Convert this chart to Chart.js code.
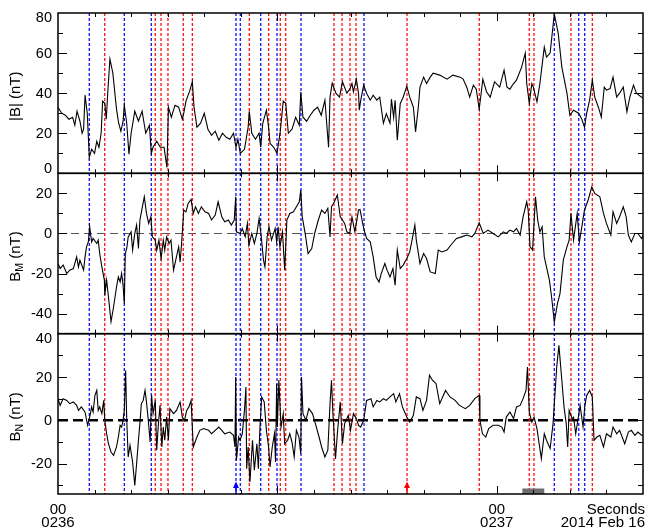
<!DOCTYPE html>
<html><head><meta charset="utf-8">
<script src="https://cdn.jsdelivr.net/npm/chart.js@4"></script>
<style>html,body{margin:0;padding:0;background:#fff;}#wrap{width:646px;height:531px;position:relative;}</style>
</head><body><div id="wrap"><canvas id="c" width="646" height="531"></canvas></div>
<script>
// ---- data (seconds after 02:36:00, nT) ----
const tB=[0,0.5,1,1.5,2,2.3,2.6,3,3.3,3.5,3.7,4.0,4.28,4.6,5.0,5.3,5.6,5.9,6.1,6.4,6.6,6.8,7.1,7.5,8.0,8.3,8.6,8.9,9.07,9.4,9.7,10.0,10.5,11.0,11.5,12.0,12.5,12.76,13.0,13.5,14.0,14.5,14.9,15.1,15.5,16.0,16.5,17.0,17.2,17.5,18.0,18.37,18.6,19.0,19.5,20.0,20.5,21.0,21.5,22.0,22.5,23.0,23.5,24.0,24.34,24.6,24.93,25.5,26.0,26.16,26.5,27.0,27.5,27.72,28.0,28.5,28.8,29.0,29.5,29.95,30.4,30.8,31.14,31.5,32.0,32.5,33.0,33.2,33.5,34.0,34.5,35.0,35.5,36.0,36.5,37.0,37.2,37.5,38.0,38.5,38.9,39.5,39.9,40.2,40.4,40.8,41.1,41.2,41.4,41.8,42.2,42.7,43.1,43.6,44.0,44.5,44.9,45.4,45.6,45.9,46.1,46.4,46.8,47.2,47.7,48.1,48.6,48.9,49.3,49.5,50.0,50.4,50.9,51.3,52.2,53.2,54.0,55.0,55.4,55.9,56.3,56.8,57.2,57.6,58.1,58.6,59.1,59.7,60.4,61.0,61.4,61.8,62.3,62.7,63.4,63.9,64.1,64.45,64.8,65.0,65.5,65.9,66.5,66.8,67.3,67.87,68.4,68.9,69.6,70.0,70.5,71.2,71.6,72.0,72.3,72.7,73.07,73.4,73.9,74.3,74.7,75.0,75.5,75.9,76.4,76.8,77.3,77.8,78.2,78.7,79.1,79.8,80];
const vB=[33,30,29,27,28,24,31,26,20,22,39,30,8,12,10,16,13,20,36,35,27,40,57,50,32,25,21,26,34,25,9.5,20,31,26,31,20,24,10,13,16,13,13,3,33,28,34,33,27,30,36,41,45.7,33,23,25,30,22,19,21,16.5,20,18,17,20,13,17,10,12,23,31,20,17,20,13,25,31.5,23,15,13,10,21,36,35,20,22,28,24,40.6,28,26,29,31.5,33,29,36.5,13,38,45,40,38,45.7,40,42,44.8,40.7,47,39.8,31.5,36.5,44,40,36.5,39,36.5,38,25,29.8,25,37,28,36.5,16.5,34.8,38,43.5,38,33,20.7,34,43,48,44.8,48,50,49,47,49,48,47,43,38,44,42,32,47,40.7,38,45.7,43,51.5,43,42,44.8,46.5,53,60,44.8,35,44.8,43,35.7,44.8,63,58,60,79.5,70,53,40,29,31.5,30,27.3,23,30,36.5,46.5,38,33,28,43,41.5,42.3,48,38,40,43,30.7,38,44,40,38,38];

const tM=[0,0.3,0.7,1.2,1.6,2.1,2.55,2.8,3.0,3.5,3.7,3.9,4.15,4.33,4.6,4.8,5.3,5.5,5.7,6.0,6.34,6.4,6.65,6.9,7.25,7.6,8.0,8.25,8.5,8.7,8.9,9.07,9.2,9.4,9.6,10.0,10.2,10.5,10.75,11.0,11.2,11.5,11.8,12.1,12.4,12.7,12.9,13.3,13.5,13.8,14.1,14.4,14.6,14.85,15.2,15.45,15.8,16.1,16.5,16.7,16.9,17.2,17.5,17.8,18.2,18.5,18.8,19.2,19.6,20.1,20.6,21.0,21.5,21.9,22.4,22.8,23.3,23.7,24.1,24.3,24.4,24.9,25.2,25.6,25.9,26.1,26.5,26.85,27.2,27.5,27.8,28.1,28.3,28.6,28.85,29.2,29.7,29.9,30.1,30.35,30.7,31.0,31.3,31.7,32.2,32.6,33.0,33.2,33.4,33.8,34.2,34.7,35.1,35.6,36.05,36.5,36.9,37.2,37.4,37.8,38.2,38.6,38.9,39.2,39.5,39.9,40.2,40.6,41.1,41.3,41.8,42.2,42.7,43.1,43.5,43.9,44.2,44.7,45.0,45.4,45.8,46.1,46.4,46.8,47.2,47.7,48.1,48.5,48.8,49.0,49.5,50.0,50.4,50.9,51.6,52.0,52.5,53.2,53.9,54.5,55.2,55.9,56.6,57.0,57.6,58.15,58.8,59.5,60.2,60.9,61.3,61.8,62.3,62.7,63.2,63.6,64.1,64.3,64.55,64.9,65.3,65.6,65.9,66.2,66.5,66.8,67.2,67.5,67.87,68.3,68.65,69.1,69.6,69.9,70.15,70.5,71.0,71.3,71.6,72.0,72.5,73.0,73.4,74.1,74.6,75.0,75.6,75.9,76.4,76.8,77.3,77.7,78.0,78.4,78.9,79.3,79.8,80];
const vM=[-15,-17.5,-15.8,-20,-18.3,-17.5,-11.7,-16.7,-13.3,-18.3,-11.7,-6.7,-4.2,3.3,-4.2,-2.5,-5,-3.3,-10,-16.7,-23.3,-30.8,-23.3,-31.7,-44,-36.7,-26.7,-21.7,-24.2,-20,-25.8,-35,-10,-7.5,-1.7,0.8,-8.3,0,4.2,-7.5,6.7,12.5,18.3,10,5,8.3,-1.7,-3.3,-8.3,-3.3,-12.5,-3.3,-8.3,-1.7,-5,-3.3,-18.3,-13.3,-6.7,-14.2,-5,11.7,10.8,15,17,10,13.3,10,13.3,10.8,10,6.7,9.2,15.8,8.3,5.8,6.7,4.2,6.7,18.3,0.8,0,2.5,-1.7,5,-5.8,0,-5,0,7.5,-1.7,-13.3,-16.7,-1.7,3.3,-3.3,2.5,-4.2,3.3,-6.7,0.8,-18.3,6.7,10,10.8,13.3,15.8,21.7,8.3,0,-10,-7.5,0,6.7,11.7,10,12.5,-1.7,13.3,15.8,19.2,8.3,6.7,5,0.8,0,8.3,0.8,11.7,12,2.5,-2.5,-4.2,-11.7,-21.7,-24.2,-20,-15,-18.3,-21.7,-17.5,-25.8,-8.3,-17.5,-15.8,-12.5,-9.2,-1.7,4.2,-3.3,-15,-10,-12.5,-19.2,-20,-8.3,-9.2,-8.3,-5,-2.5,-1.7,-0.8,-1.7,0,5.3,0,1.7,0,-1.7,0.8,0,1.7,0.8,2.5,-0.8,8.3,15.8,11.7,-6.7,-8.3,18.3,6.7,0.8,3.3,-11.7,-16.7,-23.3,-31.7,-44.2,-35,-30,-13.3,-6.7,-3.3,10,-3.3,10,-4.2,2.5,11.7,16.7,23.3,20,18.3,10,5,-0.8,10.8,5,8.3,13.3,8.3,-0.8,-4.2,0,0,-2.5,-1];

const tN=[0,0.3,0.7,1.2,1.6,2.1,2.55,2.8,3.2,3.7,4.05,4.33,4.6,4.8,5.05,5.3,5.5,5.7,6.0,6.25,6.4,6.65,6.9,7.25,7.6,8.0,8.25,8.5,8.7,8.9,9.07,9.25,9.4,9.6,9.85,10.2,10.5,10.75,11.0,11.2,11.4,11.65,11.9,12.1,12.35,12.6,12.8,13.0,13.3,13.5,13.7,13.95,14.2,14.4,14.6,14.85,15.1,15.3,15.8,16.2,16.7,17.0,17.3,17.6,17.9,18.2,18.5,19.0,19.4,19.9,20.6,21.0,21.5,22.0,22.4,22.8,23.5,24.0,24.2,24.3,24.4,24.7,24.9,25.2,25.5,25.7,25.8,26.0,26.25,26.6,26.85,27.2,27.4,27.6,27.85,28.2,28.5,28.8,29.0,29.3,29.6,29.75,29.9,30.0,30.2,30.5,30.8,31.0,31.4,31.7,32.0,32.3,32.6,32.95,33.2,33.3,33.5,33.9,34.3,34.8,35.2,35.7,36.05,36.5,36.9,37.2,37.4,37.6,37.95,38.2,38.6,38.9,39.2,39.4,39.7,40.0,40.4,40.8,41.1,41.4,41.8,42.2,42.8,43.1,43.6,44.0,44.5,44.9,45.4,45.9,46.2,46.7,47.1,47.7,48.1,48.6,49.0,49.5,49.9,50.4,50.8,51.2,51.7,52.2,52.6,53.0,53.6,54.3,54.9,55.7,56.3,57.0,57.6,57.7,58.05,58.5,58.9,59.5,60.2,60.7,61.0,61.3,61.8,62.3,62.7,63.2,63.6,64.0,64.2,64.45,64.8,65.1,65.5,65.8,66.1,66.5,66.8,67.3,67.7,68.2,68.5,68.9,69.2,69.5,69.7,69.9,70.3,70.5,70.8,71.2,71.4,71.8,72.05,72.3,72.7,73.07,73.3,73.7,74.1,74.6,75.0,75.6,75.9,76.4,76.8,77.5,78.0,78.4,78.9,79.3,79.8,80];
const vN=[10,6.9,10,9.2,7.7,8.5,6.9,4.6,6.2,3.8,-2.3,1.5,6.2,3.8,11.5,13.8,4.6,6.2,3.1,9.2,0,-6.2,-10.8,-14.6,-16.2,-12.3,-7.7,-2.3,-3.1,0,4.6,23,0,-16.9,-11.5,-19.2,-30,-20,-9.2,-1.5,7.7,9.2,13.8,8.5,0,-10,11.5,3.1,9.2,-13.8,-3.1,6.9,-12.3,-3.1,-9.2,1.5,-9.2,5.4,3.1,4.6,8.5,1.5,0,4.6,6.2,9.2,-12.3,-7.7,-4.6,-3.8,-4.6,-6.2,-4.6,-3.1,-4.6,-6.2,-5.4,-6.9,-12.3,20,-18.5,-7.7,-9.2,-6.2,4.6,15.4,-22.3,-12.3,-28.5,-9.2,-23,-10.8,-22.3,-4.6,10.8,8.5,-4.6,-12.3,-21.5,-12.3,-6.2,-19.2,16.9,-3.1,18.5,-3.1,3.1,-10.8,-9.2,-6.2,-10,-16.9,-4.6,-7.7,-15.4,20,3.1,0,5.4,3.1,-1.5,-7.7,-12.3,-16.9,-13.8,7.7,18.5,3.1,-17.7,-6.2,8.5,-10.8,-1.5,0,2.3,-4.6,3.1,0.8,-2.3,-3.1,0,9.2,10,6.2,9.2,8.5,10,9.2,10.8,12.3,8.5,12.3,6.2,1.5,-0.8,2.3,10.8,10,4.6,9.2,20.8,18.5,16.9,7.7,10.8,13.8,10.8,9.2,6.9,5.4,6.9,10,11.5,0,-6.2,-7.7,-3.8,-2.3,-2.3,-3.1,-5.4,1.5,3.8,0.8,6.2,6.9,10,13.8,24.6,3.8,-0.8,1.5,-3.8,-10.8,-17.7,-6.2,-9.2,-13,-1.5,24.6,34.6,18.5,6.2,-1.5,-12.3,4.6,0.8,1.5,-6.2,2.3,6.9,-3.1,6.9,11.5,13.8,10.8,-9.2,-7.7,-6.9,-12.3,-6.2,-7.7,-3.1,-6.2,-4.6,-10.8,-5.4,-4.6,-6.9,-5.4,-6.9,-7];

const blueLines=[4.28,9.07,12.76,24.34,24.93,27.72,29.95,33.23,41.85,67.87,71.21,72.03];
const redLines=[6.39,13.3,14.09,15.04,17.13,18.37,26.16,28.81,30.4,31.14,37.74,38.84,39.93,40.75,47.73,57.61,64.45,65.09,70.15,73.07];
const blueArrows=[24.34];
const redArrows=[47.73];
const grayBar=[63.5,66.5];
const xTickLabels={0:['00','0236'],30:['30'],60:['00','0237']};
const yLabelValues={yB:[0,20,40,60,80],yM:[-40,-20,0,20],yN:[-20,0,20,40]};

const FONT='"Liberation Sans", Arial, sans-serif';
function pts(t,v){return t.map((x,i)=>({x:x,y:v[i]}));}
const fixW=s=>{s.width=58;};

const decor={
  id:'decor',
  beforeDatasetsDraw(chart){
    const ctx=chart.ctx,xs=chart.scales.x,a=chart.chartArea;
    ctx.save();
    let y0=Math.round(chart.scales.yM.getPixelForValue(0))+0.5;
    ctx.beginPath();ctx.setLineDash([8,5]);ctx.strokeStyle='#555';ctx.lineWidth=1;
    ctx.moveTo(a.left,y0);ctx.lineTo(a.right,y0);ctx.stroke();
    y0=chart.scales.yN.getPixelForValue(0);
    ctx.beginPath();ctx.setLineDash([10,5]);ctx.strokeStyle='#000';ctx.lineWidth=2.5;
    ctx.moveTo(a.left,y0);ctx.lineTo(a.right,y0);ctx.stroke();
    ctx.lineWidth=1.3;ctx.setLineDash([3,2]);
    for(const [list,col] of [[redLines,'#ff1010'],[blueLines,'#1010ff']]){
      ctx.strokeStyle=col;
      for(const t of list){
        const x=xs.getPixelForValue(t);
        ctx.beginPath();ctx.moveTo(x,a.top);ctx.lineTo(x,a.bottom);ctx.stroke();
      }
    }
    ctx.restore();
  },
  afterDatasetsDraw(chart){
    const ctx=chart.ctx,xs=chart.scales.x,a=chart.chartArea;
    ctx.save();
    ctx.setLineDash([]);
    const yN=chart.scales.yN;
    ctx.fillStyle='#6f6f6f';
    const gx0=xs.getPixelForValue(grayBar[0]),gx1=xs.getPixelForValue(grayBar[1]);
    ctx.fillRect(gx0,yN.bottom-5.5,gx1-gx0,5.5);
    const arrow=(t,col)=>{
      const x=xs.getPixelForValue(t),b=yN.bottom;
      ctx.fillStyle=col;ctx.strokeStyle=col;ctx.lineWidth=1.5;
      ctx.beginPath();ctx.moveTo(x,b);ctx.lineTo(x,b-8);ctx.stroke();
      ctx.beginPath();ctx.moveTo(x,b-12.5);ctx.lineTo(x-3,b-6);ctx.lineTo(x+3,b-6);ctx.closePath();ctx.fill();
    };
    blueArrows.forEach(t=>arrow(t,'#00f'));
    redArrows.forEach(t=>arrow(t,'#f00'));
    ctx.strokeStyle='#000';ctx.fillStyle='#000';
    for(const id of ['yB','yM','yN']){
      const s=chart.scales[id];
      ctx.lineWidth=1.5;
      ctx.strokeRect(a.left,s.top,a.right-a.left,s.bottom-s.top);
      ctx.lineWidth=1;
      ctx.beginPath();
      for(let t=5;t<80;t+=5){
        const x=Math.round(xs.getPixelForValue(t))+0.5;
        const L=(t%30===0)?8:4;
        ctx.moveTo(x,s.top);ctx.lineTo(x,s.top+L);
        ctx.moveTo(x,s.bottom);ctx.lineTo(x,s.bottom-L);
      }
      for(let v=Math.ceil(s.min/10)*10;v<=s.max;v+=10){
        if(v===s.min||v===s.max)continue;
        const y=Math.round(s.getPixelForValue(v))+0.5;
        const L=(v%20===0)?9:5;
        ctx.moveTo(a.left,y);ctx.lineTo(a.left+L,y);
        ctx.moveTo(a.right,y);ctx.lineTo(a.right-L,y);
      }
      ctx.stroke();
      ctx.font='14.5px '+FONT;ctx.textAlign='right';ctx.textBaseline='middle';
      for(const v of yLabelValues[id]){
        let y=s.getPixelForValue(v);
        y=Math.min(Math.max(y,s.top+4.5),s.bottom-4.5);
        ctx.fillText(String(v),52,y+0.5);
      }
    }
    const title=(s,main,sub)=>{
      const cy=(s.top+s.bottom)/2+3;
      ctx.save();ctx.translate(16,cy);ctx.rotate(-Math.PI/2);
      ctx.textBaseline='middle';ctx.textAlign='left';
      const f1='15px '+FONT,f2='10.5px '+FONT;
      ctx.font=f1;const w1=ctx.measureText(main).width;const rest=' (nT)';const w3=ctx.measureText(rest).width;
      ctx.font=f2;const w2=sub?ctx.measureText(sub).width:0;
      let x=-(w1+w2+w3)/2;
      ctx.font=f1;ctx.fillText(main,x,0);x+=w1;
      if(sub){ctx.font=f2;ctx.fillText(sub,x,4.5);x+=w2;}
      ctx.font=f1;ctx.fillText(rest,x,0);
      ctx.restore();
    };
    title(chart.scales.yB,'|B|','');
    title(chart.scales.yM,'B','M');
    title(chart.scales.yN,'B','N');
    ctx.font='15px '+FONT;ctx.textBaseline='middle';ctx.textAlign='center';
    for(const k of Object.keys(xTickLabels)){
      const x=xs.getPixelForValue(+k);
      xTickLabels[k].forEach((line,i)=>ctx.fillText(line,x,510+i*12.5));
    }
    ctx.textAlign='right';
    ctx.fillText('Seconds',645,510);
    ctx.fillText('2014 Feb 16',645,522.5);
    ctx.restore();
  }
};

const lineDs=(data,axis)=>({data:data,yAxisID:axis,borderColor:'#000',borderWidth:1.1,pointRadius:0,tension:0,fill:false});

new Chart(document.getElementById('c'),{
  type:'line',
  data:{datasets:[lineDs(pts(tB,vB),'yB'),lineDs(pts(tM,vM),'yM'),lineDs(pts(tN,vN),'yN')]},
  options:{
    responsive:false,animation:false,events:[],
    layout:{padding:{top:13,right:3,left:0,bottom:0}},
    plugins:{legend:{display:false},tooltip:{enabled:false}},
    scales:{
      x:{type:'linear',min:0,max:80,position:'bottom',ticks:{display:false},grid:{display:false},border:{display:false},afterFit:s=>{s.height=37;}},
      yN:{type:'linear',position:'left',stack:'p',stackWeight:1,min:-34,max:40,ticks:{display:false},grid:{display:false},border:{display:false},afterFit:fixW},
      yM:{type:'linear',position:'left',stack:'p',stackWeight:1,min:-50,max:30,ticks:{display:false},grid:{display:false},border:{display:false},afterFit:fixW},
      yB:{type:'linear',position:'left',stack:'p',stackWeight:1,min:0,max:80,ticks:{display:false},grid:{display:false},border:{display:false},afterFit:fixW}
    }
  },
  plugins:[decor]
});
</script></body></html>
